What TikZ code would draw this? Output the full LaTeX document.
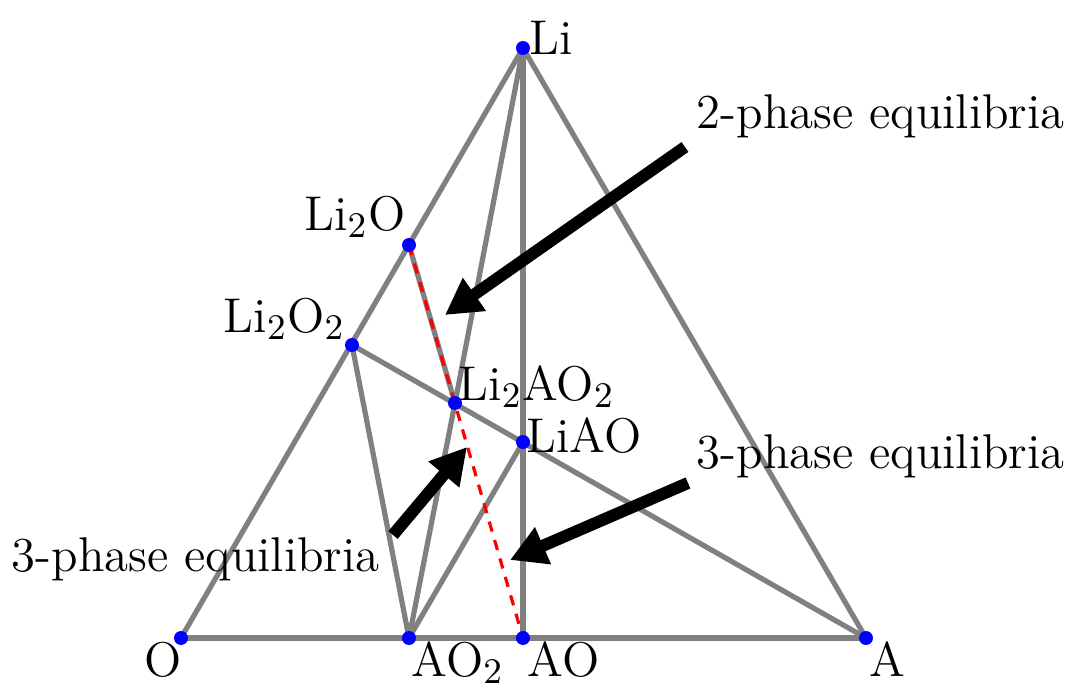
\documentclass[tikz,border=0pt]{standalone}
\usetikzlibrary{arrows.meta}
\begin{document}
\begin{tikzpicture}[x=0.25pt,y=-0.25pt,
  edge/.style={draw=gray, line width=1.3pt},
  redline/.style={draw=red, line width=0.8pt, dash pattern=on 2.6pt off 2.2pt},
  dot/.style={circle, fill=blue, inner sep=0pt, minimum size=3.5pt},
  lbl/.style={font=\fontsize{12.2}{14.5}\selectfont, inner sep=0pt},
  bigarrow/.style={line width=3pt, -{Triangle[length=9pt,width=9.5pt]}}]
\useasboundingbox (0,0) rectangle (1076,686);
% vertices
\coordinate (O) at (181,638);
\coordinate (AO2) at (409,638);
\coordinate (AO) at (523,638);
\coordinate (A) at (866,638);
\coordinate (Li) at (523,48);
\coordinate (Li2O) at (409,245);
\coordinate (Li2O2) at (352,345);
\coordinate (Li2AO2) at (455,403);
\coordinate (LiAO) at (523,442);
% edges
\draw[edge] (O) -- (A);
\draw[edge] (O) -- (Li);
\draw[edge] (Li) -- (A);
\draw[edge] (Li) -- (AO);
\draw[edge] (Li) -- (Li2AO2);
\draw[edge] (Li2AO2) -- (AO2);
\draw[edge] (Li2O2) -- (AO2);
\draw[edge] (Li2O2) -- (A);
\draw[edge] (LiAO) -- (AO2);
\draw[edge] (Li2O) -- (Li2AO2);
\draw[redline] (Li2O) -- (AO);
% dots
\foreach \p in {O,AO2,AO,A,Li,Li2O,Li2O2,Li2AO2,LiAO}
  \node[dot] (d\p) at (\p) {};
% labels
\node[lbl, anchor=base west] (tLi) at (529,54) {Li};
\node[lbl, anchor=base east] (tLi2O) at (406,230) {Li$_2$O};
\node[lbl, anchor=base east] (tLi2O2) at (346,332) {Li$_2$O$_2$};
\node[lbl, anchor=base west] (tLi2AO2) at (458,400) {Li$_2$AO$_2$};
\node[lbl, anchor=base west] (tLiAO) at (526,452) {LiAO};
\node[lbl, anchor=base] (tO) at (163,676) {O};
\node[lbl, anchor=base west] (tAO2) at (411,676) {AO$_2$};
\node[lbl, anchor=base west] (tAO) at (527,676) {AO};
\node[lbl, anchor=base west] (tA) at (869,676) {A};
% annotations
\node[lbl, anchor=base west] (t2p) at (696,128) {2-phase equilibria};
\node[lbl, anchor=base west] (t3r) at (696,469) {3-phase equilibria};
\node[lbl, anchor=base west] (t3l) at (11,571) {3-phase equilibria};
\coordinate (s2p) at (685,147);
\coordinate (e2p) at (445,315);
\coordinate (s3r) at (688,483);
\coordinate (e3r) at (510,560);
\coordinate (s3l) at (393,535);
\coordinate (e3l) at (467,447);
\draw[bigarrow] (s2p) -- (e2p);
\draw[bigarrow] (s3r) -- (e3r);
\draw[bigarrow] (s3l) -- (e3l);
\end{tikzpicture}
\end{document}
